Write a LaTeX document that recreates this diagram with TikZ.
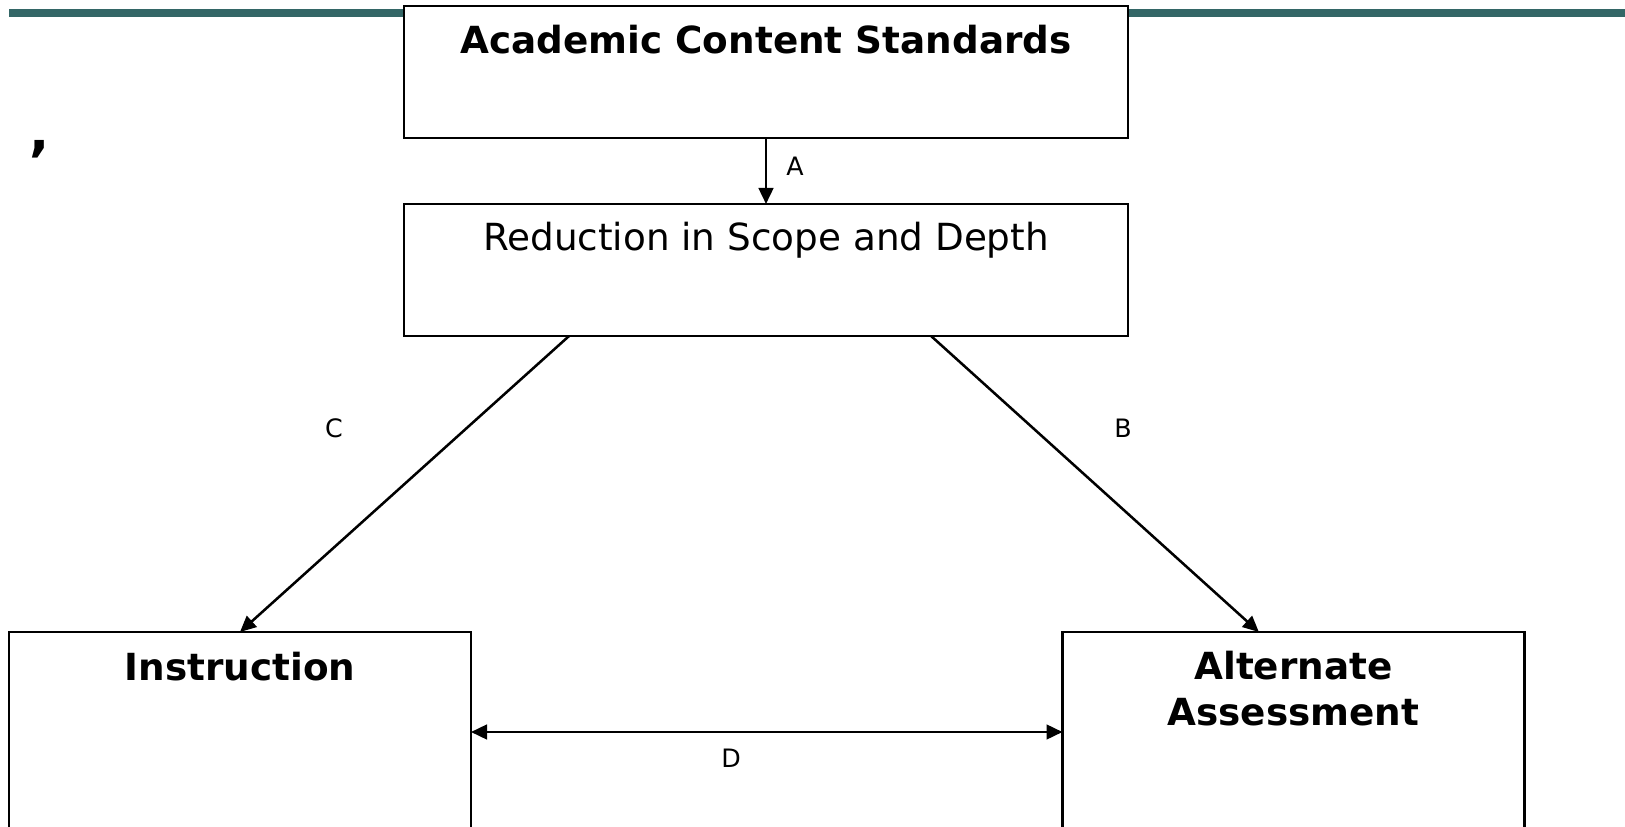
\documentclass[tikz,border=0pt]{standalone}
\usepackage{fontspec}
\setmainfont{DejaVu Sans}
\usetikzlibrary{positioning,arrows.meta,calc}
\definecolor{barteal}{RGB}{51,102,102}
\tikzset{
  box/.style={rectangle, draw=black, line width=1.9pt, fill=white, inner sep=0pt, outer sep=0pt, minimum width=543pt, minimum height=99pt},
  sidebox/.style={rectangle, draw=black, line width=1.9pt, inner sep=0pt, outer sep=0pt, minimum width=346.5pt, minimum height=150pt},
  head/.style={font=\fontsize{28}{34}\selectfont, inner sep=0pt, anchor=base, align=center},
  tag/.style={font=\fontsize{19}{23}\selectfont, inner sep=0pt},
  connect/.style={-{Triangle[length=12pt,width=11pt]}, line width=1.9pt}
}

\begin{document}
\begin{tikzpicture}[x=0.75pt, y=-0.75pt]
    \useasboundingbox (0,0) rectangle (1625,827);
    \fill[barteal] (9,9) rectangle (1625,17);

    \node[box] (Std) at (766,72) {};
    \node[box, below=49.5pt of Std] (Red) {};
    \node[sidebox] (Instr) at (240,732) {};
    \node[sidebox] (Alt) at (1293.5,732) {};

    \node[head, font=\bfseries\fontsize{28}{34}\selectfont] (StdText) at ($(Std.north)+(0,48)$) {Academic Content Standards};
    \node[head] (RedText) at ($(Red.north)+(0,47)$) {Reduction in Scope and Depth};
    \node[head, font=\bfseries\fontsize{28}{34}\selectfont] (InstrText) at ($(Instr.north)+(0,48)$) {Instruction};
    \node[head, font=\bfseries\fontsize{28}{34}\selectfont] (AltText) at ($(Alt.north)+(0,93)$) {Alternate\\Assessment};
    \node[font=\bfseries\fontsize{40}{46}\selectfont, inner sep=0pt] (Mark) at (40,149) {,};

    \coordinate (RedC) at ($(Red.south west)!0.228!(Red.south east)$);
    \coordinate (RedB) at ($(Red.south west)!0.728!(Red.south east)$);
    \coordinate (AltB) at ($(Alt.north west)!0.425!(Alt.north east)$);

    \path (Std) edge [connect] (Red)
          (RedC) edge [connect] (Instr.north)
          (RedB) edge [connect] (AltB);
    \draw [connect, {Triangle[length=12pt,width=11pt]}-{Triangle[length=12pt,width=11pt]}] (Instr) -- (Alt);

    \node[tag] (LabA) at (795,166) {A};
    \node[tag] (LabB) at (1123,428) {B};
    \node[tag] (LabC) at (334,428) {C};
    \node[tag] (LabD) at (731,758) {D};
\end{tikzpicture}
\end{document}
